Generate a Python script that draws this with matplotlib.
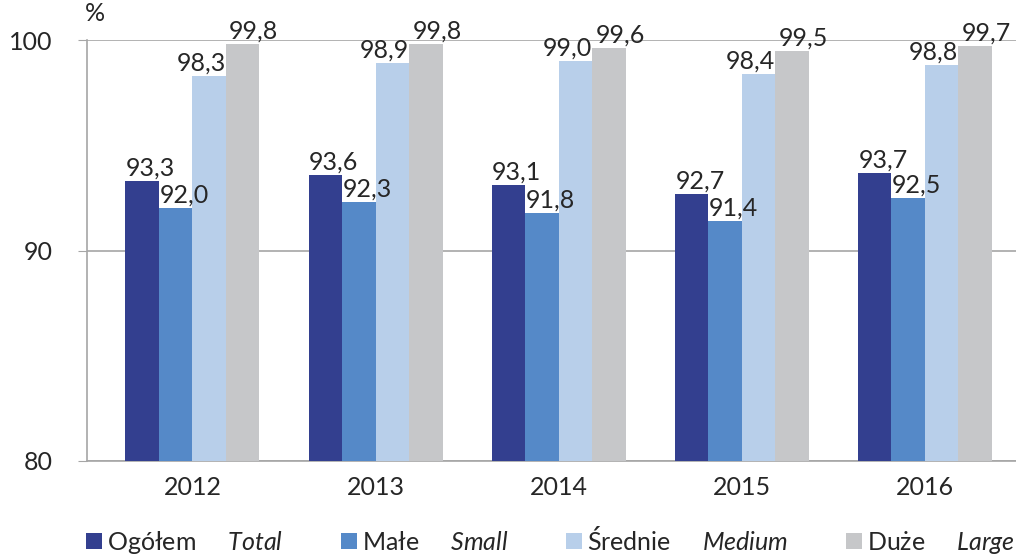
import matplotlib
matplotlib.use("Agg")
import matplotlib.pyplot as plt
import numpy as np

years = ["2012", "2013", "2014", "2015", "2016"]
names_pl = ["Ogółem", "Małe", "Średnie", "Duże"]
names_en = ["Total", "Small", "Medium", "Large"]
ogolem = [93.3, 93.6, 93.1, 92.7, 93.7]
male = [92.0, 92.3, 91.8, 91.4, 92.5]
srednie = [98.3, 98.9, 99.0, 98.4, 98.8]
duze = [99.8, 99.8, 99.6, 99.5, 99.7]
series = [ogolem, male, srednie, duze]
colors = ["#333F8F", "#5589C8", "#B8CFEA", "#C6C7C9"]
# horizontal nudge of the value labels (points), as in the reference
label_dx = [6, 6, -6, 8]

plt.rcParams["font.family"] = ["Lato", "DejaVu Sans"]
plt.rcParams["mathtext.fontset"] = "custom"
plt.rcParams["mathtext.it"] = "Lato:italic"
plt.rcParams["mathtext.rm"] = "Lato"
txt = "#262626"
grid = "#A6A6A6"
fs = 18

fig = plt.figure(figsize=(10.16, 5.56), dpi=100)
ax = fig.add_axes([0.0856, 0.1709, 0.9144, 0.7571])

x = np.arange(len(years))
w = 0.183
for i, vals in enumerate(series):
    pos = x + (i - 1.5) * w
    label = names_pl[i] + "     $\\mathit{" + names_en[i] + "}$"
    ax.bar(pos, vals, width=w, color=colors[i], label=label, zorder=3)
    for p, v in zip(pos, vals):
        ax.annotate(f"{v:.1f}".replace(".", ","), (p, v), xytext=(label_dx[i], 1),
                    textcoords="offset points", ha="center", va="bottom",
                    fontsize=fs, color=txt, zorder=4)

ax.set_ylim(80, 100)
ax.set_xlim(-0.576, len(years) - 0.503)
ax.set_yticks([80, 90, 100])
ax.set_yticklabels(["80", "90", "100"])
ax.set_xticks(x)
ax.set_xticklabels(years)
ax.tick_params(axis="y", length=6.5, color=grid, pad=18, labelsize=fs, labelcolor=txt)
ax.tick_params(axis="x", length=0, pad=11, labelsize=fs, labelcolor=txt)
ax.yaxis.grid(True, color=grid, linewidth=1.2, zorder=0)
for s in ["top", "right"]:
    ax.spines[s].set_visible(False)
for s in ["left", "bottom"]:
    ax.spines[s].set_color(grid)
    ax.spines[s].set_linewidth(1.2)

fig.text(0.084, 0.955, "%", fontsize=fs, color=txt, ha="left", va="bottom")

fig.legend(loc="lower left", bbox_to_anchor=(0.075, -0.018), ncol=4, frameon=False,
           fontsize=fs, labelcolor=txt, handlelength=0.64, handleheight=0.64,
           handletextpad=0.2, columnspacing=2.3, borderaxespad=0)

fig.savefig("out.png", dpi=100)
